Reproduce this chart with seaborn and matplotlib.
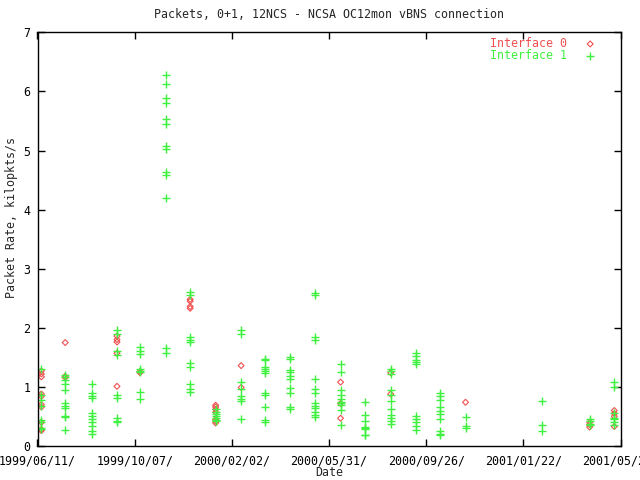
import matplotlib
matplotlib.use("Agg")
import matplotlib.pyplot as plt
import matplotlib.dates as mdates
import pandas as pd
import seaborn as sns

# monthly sample dates (one column of points per date)
sample_dates = [
    "1999-06-16", "1999-07-15", "1999-08-17", "1999-09-16", "1999-10-14",
    "1999-11-15", "1999-12-14", "2000-01-14", "2000-02-14", "2000-03-14",
    "2000-04-14", "2000-05-14", "2000-06-14", "2000-07-14", "2000-08-14",
    "2000-09-14", "2000-10-13", "2000-11-13", "2001-02-14", "2001-04-13",
    "2001-05-13",
]

# Interface 0 packet rates (kilopkts/s), one list per sample date
if0_rates = [
    [1.27, 1.22, 1.17, 0.88, 0.84, 0.70, 0.66, 0.40, 0.28, 0.26],
    [1.75, 1.18, 1.16],
    [],
    [1.86, 1.80, 1.76, 1.57, 1.01],
    [1.26, 1.24],
    [],
    [2.48, 2.45, 2.36, 2.33],
    [0.69, 0.66, 0.62, 0.57, 0.45, 0.42, 0.39],
    [1.36, 0.99],
    [],
    [],
    [],
    [1.08, 0.72, 0.47],
    [],
    [1.24, 0.88],
    [],
    [],
    [0.74],
    [],
    [0.40, 0.36, 0.32],
    [0.60, 0.55, 0.50, 0.33],
]

# Interface 1 packet rates (kilopkts/s)
if1_rates = [
    [1.31, 0.86, 0.78, 0.68, 0.44, 0.41, 0.31, 0.29],
    [1.20, 1.17, 1.12, 1.05, 0.95, 0.72, 0.68, 0.65, 0.50, 0.49, 0.27],
    [1.05, 0.89, 0.85, 0.82, 0.55, 0.51, 0.46, 0.40, 0.34, 0.26, 0.20],
    [1.96, 1.90, 1.61, 1.54, 0.87, 0.81, 0.47, 0.43, 0.40],
    [1.68, 1.61, 1.55, 1.30, 1.27, 1.25, 0.91, 0.79],
    [6.28, 6.12, 5.89, 5.80, 5.53, 5.44, 5.07, 5.02, 4.63, 4.58, 4.20, 1.65, 1.58],
    [2.60, 2.55, 1.84, 1.80, 1.76, 1.40, 1.34, 1.05, 0.96, 0.91],
    [0.62, 0.58, 0.54, 0.50, 0.48, 0.44, 0.42],
    [1.97, 1.89, 1.08, 0.96, 0.84, 0.80, 0.76, 0.46],
    [1.48, 1.46, 1.34, 1.30, 1.27, 1.24, 0.90, 0.87, 0.66, 0.44, 0.41],
    [1.50, 1.48, 1.28, 1.25, 1.19, 1.14, 0.98, 0.90, 0.66, 0.62],
    [2.59, 2.56, 1.84, 1.80, 1.13, 0.97, 0.90, 0.72, 0.67, 0.64, 0.57, 0.53, 0.49],
    [1.38, 1.25, 0.94, 0.86, 0.80, 0.75, 0.72, 0.70, 0.61, 0.35],
    [0.74, 0.52, 0.42, 0.32, 0.30, 0.28, 0.19, 0.18],
    [1.30, 1.27, 1.22, 0.95, 0.86, 0.76, 0.62, 0.52, 0.47, 0.43, 0.38],
    [1.58, 1.52, 1.46, 1.42, 1.38, 0.50, 0.45, 0.40, 0.33, 0.27],
    [0.90, 0.84, 0.78, 0.66, 0.60, 0.54, 0.45, 0.25, 0.21, 0.19],
    [0.49, 0.34, 0.31],
    [0.76, 0.35, 0.25],
    [0.45, 0.42, 0.38, 0.35],
    [1.08, 1.00, 0.55, 0.48, 0.45, 0.40, 0.36],
]

# x axis: gnuplot-style ticks, 6 equal steps of ~118.25 days
x_start = "1999-06-11 07:00"
tick_step_days = 118.25
n_ticks = 7

RED = "#f05050"
GREEN = "#40f040"


def to_frame(dates, rates):
    rows = [(pd.Timestamp(d), v) for d, vals in zip(dates, rates) for v in vals]
    return pd.DataFrame(rows, columns=["date", "rate"])


def main():
    sns.set_theme(style="white")
    plt.rcParams["font.family"] = ["DejaVu Sans Mono"]
    plt.rcParams["font.size"] = 8.4

    df0 = to_frame(sample_dates, if0_rates)
    df1 = to_frame(sample_dates, if1_rates)

    fig = plt.figure(figsize=(6.4, 4.8), dpi=100)
    ax = fig.add_axes([37.5 / 640, 1 - 446 / 480, 583.2 / 640, 413.7 / 480])

    sns.scatterplot(data=df0, x="date", y="rate", marker="D", s=9,
                    color=RED, facecolor="none", edgecolor=RED,
                    linewidth=0.8, label="Interface 0", ax=ax)
    sns.scatterplot(data=df1, x="date", y="rate", marker="+", s=30,
                    color=GREEN, linewidth=1.0, label="Interface 1", ax=ax)

    ticks = [pd.Timestamp(x_start) + pd.Timedelta(days=k * tick_step_days)
             for k in range(n_ticks)]
    ax.set_xlim(ticks[0], ticks[-1])
    ax.set_ylim(0, 7)
    ax.set_xticks(ticks)
    ax.xaxis.set_major_formatter(mdates.DateFormatter("%Y/%m/%d/"))
    ax.set_yticks(range(8))

    ax.tick_params(direction="in", length=5, width=1, colors="black",
                   top=True, right=True, bottom=True, left=True, labelsize=8.4)
    ax.tick_params(axis="x", pad=6)
    ax.tick_params(axis="y", pad=5)
    for s in ax.spines.values():
        s.set_color("black")
        s.set_linewidth(1)
    ax.set_xlabel("")
    ax.set_ylabel("")

    fig.text(329 / 640, 1 - 15 / 480, "Packets, 0+1, 12NCS - NCSA OC12mon vBNS connection",
             ha="center", va="center", fontsize=8.4)
    fig.text(329 / 640, 1 - 473 / 480, "Date", ha="center", va="center", fontsize=8.4)
    fig.text(12 / 640, 1 - 217 / 480, "Packet Rate, kilopkts/s", rotation=90,
             ha="center", va="center", fontsize=8.4)

    ax.legend(loc="upper right", bbox_to_anchor=(596 / 640, 1 - 37 / 480),
              bbox_transform=fig.transFigure, markerfirst=False, frameon=False,
              handlelength=1.0, handletextpad=1.5, labelspacing=-0.12,
              borderpad=0, borderaxespad=0, labelcolor=[RED, GREEN], fontsize=8.4)

    fig.savefig("out.png", dpi=100)
    plt.close(fig)


if __name__ == "__main__":
    main()
